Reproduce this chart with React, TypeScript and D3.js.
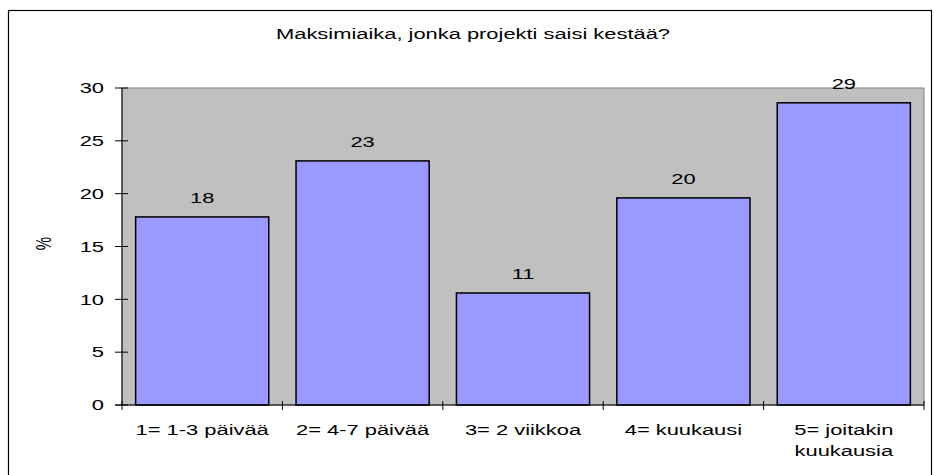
import React from 'react'
import * as d3 from 'd3'

const width = 934
const height = 475

// survey answers, % of respondents
const categories = ['1', '2', '3', '4', '5']
const categoryLabels = [
  ['1= 1-3 päivää'],
  ['2= 4-7 päivää'],
  ['3= 2 viikkoa'],
  ['4= kuukausi'],
  ['5= joitakin', 'kuukausia'],
]
const values = [17.8, 23.1, 10.6, 19.6, 28.6]
const yTicks = [0, 5, 10, 15, 20, 25, 30]
const title = 'Maksimiaika, jonka projekti saisi kestää?'
const yLabel = '%'

const plot = { left: 122, right: 924, top: 88, bottom: 405 }
const stretch = 1.46 // the source image is wider than it is tall
const font = '"Liberation Sans", Arial, sans-serif'

function Label({ x, y, children, anchor = 'middle', rotate = 0 }: {
  x: number, y: number, children: React.ReactNode, anchor?: string, rotate?: number
}) {
  return (
    <text
      transform={`translate(${x},${y}) scale(${stretch},1) rotate(${rotate})`}
      textAnchor={anchor}
      fontFamily={font}
      fontSize={15}
      fill="#000">
      {children}
    </text>
  )
}

export default function App() {
  const x = d3.scaleBand<string>()
    .domain(categories)
    .range([plot.left, plot.right])
    .paddingInner(0.17)
    .paddingOuter(0.085)

  const y = d3.scaleLinear().domain([0, 30]).range([plot.bottom, plot.top])
  const step = x.step()

  return (
    <svg width={width} height={height} style={{ position: 'absolute', left: 0, top: 0, background: '#fff' }}>
      {/* chart frame */}
      <rect x={8.5} y={10.5} width={923} height={480} fill="#fff" stroke="#000" strokeWidth={1.2} />

      <Label x={473} y={39}>{title}</Label>

      {/* plot area */}
      <rect x={plot.left} y={plot.top} width={plot.right - plot.left} height={plot.bottom - plot.top}
        fill="#C0C0C0" stroke="#808080" strokeWidth={1} />

      {categories.map((c, i) => (
        <rect key={c}
          x={x(c)!} y={y(values[i])}
          width={x.bandwidth()} height={y(0) - y(values[i])}
          fill="#9999FF" stroke="#000" strokeWidth={1.5} />
      ))}

      {/* y axis */}
      <line x1={plot.left} x2={plot.left} y1={plot.top} y2={plot.bottom} stroke="#000" />
      {yTicks.map(t => (
        <g key={t}>
          <line x1={plot.left - 7} x2={plot.left + 6} y1={y(t)} y2={y(t)} stroke="#000" />
          <Label x={plot.left - 18} y={y(t) + 5.3} anchor="end">{t}</Label>
        </g>
      ))}
      <Label x={51} y={y(15) - 3} rotate={-90}>{yLabel}</Label>

      {/* x axis */}
      <line x1={plot.left - 7} x2={plot.right} y1={plot.bottom} y2={plot.bottom} stroke="#000" />
      {d3.range(categories.length + 1).map(i => (
        <line key={i}
          x1={plot.left + i * step} x2={plot.left + i * step}
          y1={plot.bottom - 4} y2={plot.bottom + 5} stroke="#000" />
      ))}
      {categories.map((c, i) => (
        <g key={c}>
          {categoryLabels[i].map((line, j) => (
            <Label key={j} x={x(c)! + x.bandwidth() / 2} y={435 + j * 21}>{line}</Label>
          ))}
          <Label x={x(c)! + x.bandwidth() / 2} y={y(values[i]) - 14}>{Math.round(values[i])}</Label>
        </g>
      ))}
    </svg>
  )
}
